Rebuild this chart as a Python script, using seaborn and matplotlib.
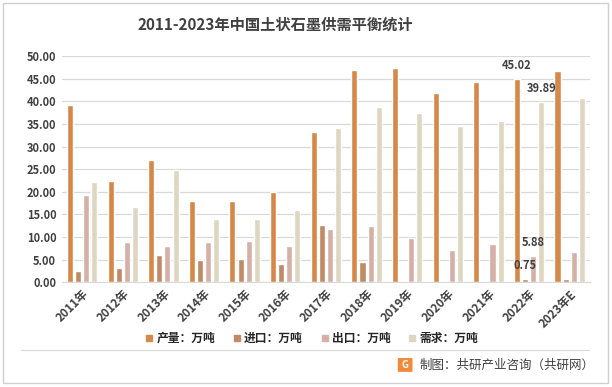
import pandas as pd
import matplotlib.pyplot as plt
import seaborn as sns
from matplotlib.patches import Rectangle, FancyBboxPatch
from matplotlib.lines import Line2D

# data
years = ['2011年', '2012年', '2013年', '2014年', '2015年', '2016年', '2017年',
         '2018年', '2019年', '2020年', '2021年', '2022年', '2023年E']
production = [39.2, 22.3, 27.0, 17.9, 17.9, 19.9, 33.2, 46.9, 47.3, 41.8, 44.2, 45.02, 46.7]
imports = [2.4, 3.1, 6.0, 4.9, 5.1, 4.0, 12.6, 4.4, 0, 0, 0, 0.75, 0.7]
exports = [19.2, 8.85, 8.0, 8.85, 9.1, 8.0, 11.7, 12.4, 9.7, 7.1, 8.4, 5.88, 6.6]
demand = [22.1, 16.6, 24.9, 13.9, 13.9, 15.9, 34.1, 38.7, 37.4, 34.5, 35.6, 39.89, 40.7]
series_names = ['产量：万吨', '进口：万吨', '出口：万吨', '需求：万吨']
colors = ['#D4894A', '#BF8B66', '#D4B0A6', '#DED6C2']

def build_frame():
    frames = []
    for name, vals in zip(series_names, [production, imports, exports, demand]):
        frames.append(pd.DataFrame({'year': years, 'series': name, 'value': vals}))
    return pd.concat(frames, ignore_index=True)

def main():
    sns.set_style('white')
    plt.rcParams['font.family'] = ['Noto Sans CJK SC', 'DejaVu Sans']
    df = build_frame()

    fig = plt.figure(figsize=(6.12, 3.87), dpi=100)
    ax = fig.add_axes([0.101, 0.271, 0.863, 0.584])
    sns.barplot(data=df, x='year', y='value', hue='series', palette=colors,
                saturation=1, width=0.8, gap=0.25, ax=ax, legend=False)

    ax.set_ylim(0, 50)
    ax.set_yticks(range(0, 51, 5))
    ax.set_yticklabels([f'{v:.2f}' for v in range(0, 51, 5)],
                       fontsize=8, fontweight='bold', color='#404040')
    ax.set_xticks(range(len(years)))
    ax.set_xticklabels(years, rotation=45, ha='right', rotation_mode='anchor',
                       fontsize=8.5, fontweight='bold', color='#404040')
    ax.tick_params(axis='both', length=0, pad=4)
    ax.yaxis.grid(True, color='#D9D9D9', linewidth=0.9)
    ax.set_axisbelow(True)
    for side in ['top', 'right', 'left']:
        ax.spines[side].set_visible(False)
    ax.spines['bottom'].set_color('#D9D9D9')
    ax.set_xlabel('')
    ax.set_ylabel('')

    # labels on 2022
    i = years.index('2022年')
    offs = [-0.3, -0.1, 0.1, 0.3]
    vals = [production[i], imports[i], exports[i], demand[i]]
    for off, v in zip(offs, vals):
        ax.text(i + off, v + 2.9, f'{v:.2f}', ha='center', va='center',
                fontsize=8, fontweight='bold', color='#404040')

    fig.text(0.45, 0.935, '2011-2023年中国土状石墨供需平衡统计', ha='center', va='center',
             fontsize=11, fontweight='bold', color='#404040')

    handles = [Line2D([0], [0], marker='s', linestyle='none', markersize=4.5,
                      markerfacecolor=c, markeredgecolor=c) for c in colors]
    fig.legend(handles, series_names, loc='center', bbox_to_anchor=(0.509, 0.126), ncol=4,
               frameon=False, handlelength=0.8, handletextpad=0.2, columnspacing=1.45,
               prop={'size': 8.5, 'weight': 'bold'})

    fig.add_artist(Line2D([0.035, 0.962], [0.0956, 0.0956], color='#D9D9D9', linewidth=0.8))
    fig.add_artist(FancyBboxPatch((0.652, 0.041), 0.020, 0.032,
                                  boxstyle='round,pad=0.002', facecolor='#F08A3C',
                                  edgecolor='none', transform=fig.transFigure))
    fig.text(0.662, 0.057, 'G', ha='center', va='center', fontsize=7,
             fontweight='bold', color='white')
    fig.text(0.686, 0.057, '制图：共研产业咨询（共研网）', ha='left', va='center',
             fontsize=9, color='#404040')

    fig.add_artist(Rectangle((0.005, 0.010), 0.989, 0.982, fill=False,
                             edgecolor='#D0D0D0', linewidth=1, transform=fig.transFigure))
    fig.savefig('out.png', dpi=100)

if __name__ == "__main__":
    main()
